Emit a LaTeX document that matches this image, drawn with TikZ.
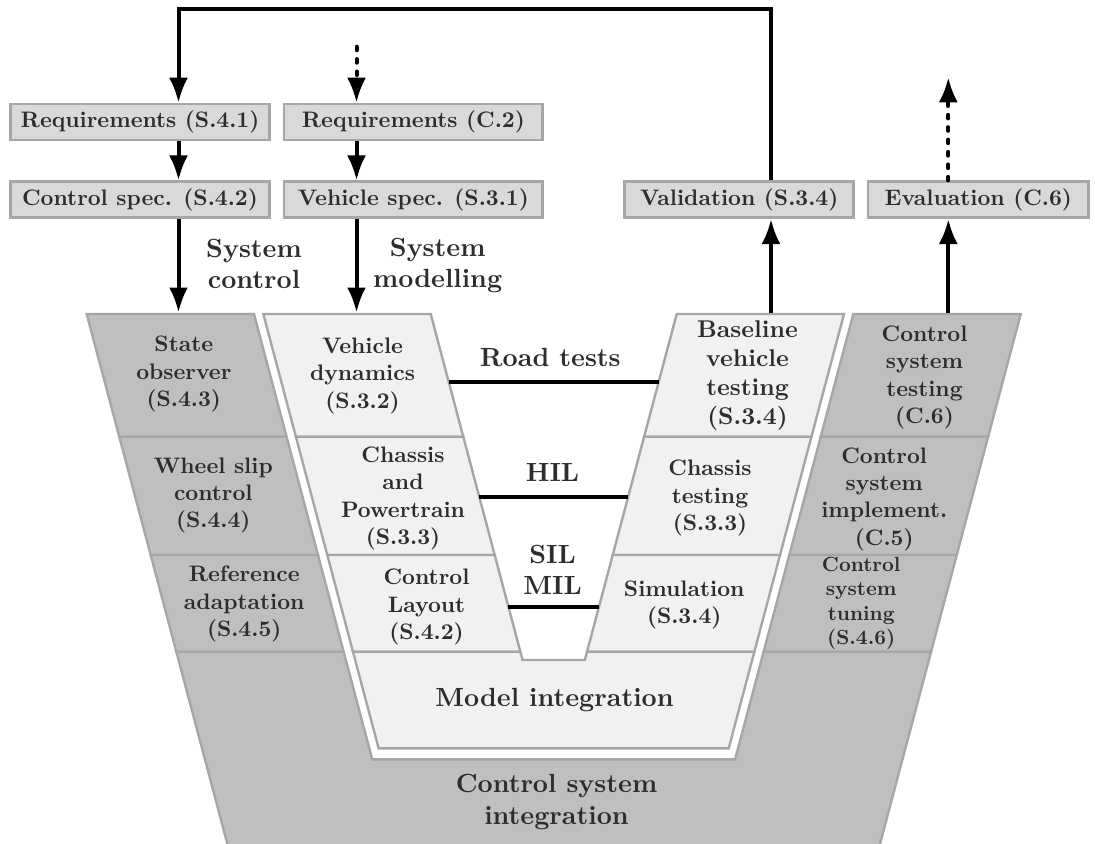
\documentclass[tikz,border=0pt]{standalone}
\usepackage{fontspec}
\setmainfont{lmroman10-regular.otf}[BoldFont=lmroman10-bold.otf]
\usetikzlibrary{arrows.meta}
\definecolor{boxfill}{RGB}{217,217,217}
\definecolor{bord}{RGB}{166,166,166}
\definecolor{darkcell}{RGB}{191,191,191}
\definecolor{lightcell}{RGB}{241,241,241}
\definecolor{txt}{RGB}{45,45,45}
\newcommand{\fbig}{\fontsize{13.15}{15.8}\selectfont\bfseries}
\newcommand{\fmid}{\fontsize{11.2}{13.7}\selectfont\bfseries}
\newcommand{\fbase}{\fontsize{12.1}{14.5}\selectfont\bfseries}
\newcommand{\ftune}{\fontsize{10.25}{12.2}\selectfont\bfseries}
\begin{document}
\begin{tikzpicture}[x=0.5pt,y=-0.5pt,
  box/.style={draw=bord, line width=1.3pt, fill=boxfill, minimum height=18pt,
    inner sep=0pt, text=txt, font=\fmid},
  arr/.style={line width=2pt, -{Latex[length=12.5pt,width=9.5pt]}},
  dsh/.style={arr, dash pattern=on 1.8pt off 4.4pt, line cap=round},
  cellD/.style={draw=bord, line width=1.2pt, fill=darkcell},
  cellL/.style={draw=bord, line width=1.2pt, fill=lightcell},
  lab/.style={text=txt, align=center, inner sep=0pt, font=\fmid},
  big/.style={lab, font=\fbig},
  lvl/.style={line width=2pt}]
\useasboundingbox (0,0) rectangle (1095,843);

% ---------- V shape: dark (control) cells ----------
\path[cellD] (86.7,314) -- (254,314) -- (286.58,436.7) -- (119.28,436.7) -- cycle;
\path[cellD] (119.28,436.7) -- (286.58,436.7) -- (317.99,555) -- (150.69,555) -- cycle;
\path[cellD] (150.69,555) -- (317.99,555) -- (343.66,651.7) -- (176.36,651.7) -- cycle;
\path[cellD] (853.3,314) -- (1020.7,314) -- (988.12,436.7) -- (820.72,436.7) -- cycle;
\path[cellD] (820.72,436.7) -- (988.12,436.7) -- (956.71,555) -- (789.31,555) -- cycle;
\path[cellD] (789.31,555) -- (956.71,555) -- (931.04,651.7) -- (763.64,651.7) -- cycle;
\path[cellD] (176.36,651.7) -- (343.66,651.7) -- (372.23,759.3) -- (735.07,759.3)
  -- (763.64,651.7) -- (931.04,651.7) -- (879.45,846) -- (227.95,846) -- cycle;

% ---------- V shape: light (model) cells ----------
\path[cellL] (263.3,314) -- (430.7,314) -- (463.28,436.7) -- (295.88,436.7) -- cycle;
\path[cellL] (295.88,436.7) -- (463.28,436.7) -- (494.69,555) -- (327.29,555) -- cycle;
\path[cellL] (327.29,555) -- (494.69,555) -- (520.36,651.7) -- (352.96,651.7) -- cycle;
\path[cellL] (676.7,314) -- (844,314) -- (811.42,436.7) -- (644.12,436.7) -- cycle;
\path[cellL] (644.12,436.7) -- (811.42,436.7) -- (780.01,555) -- (612.71,555) -- cycle;
\path[cellL] (612.71,555) -- (780.01,555) -- (754.34,651.7) -- (587.04,651.7) -- cycle;
\path[cellL] (352.96,651.7) -- (520.36,651.7) -- (522.56,660) -- (584.84,660)
  -- (587.04,651.7) -- (754.34,651.7) -- (728.69,748.3) -- (378.61,748.3) -- cycle;

% ---------- cell texts ----------
\node[lab] (so) at (183.8,374) {State\\observer\\(S.4.3)};
\node[lab] (ws) at (213.3,495.5) {Wheel slip\\control\\(S.4.4)};
\node[lab] (ra) at (244.2,604) {Reference\\adaptation\\(S.4.5)};
\node[lab] (vd) at (362.5,375.8) {Vehicle\\dynamics\\(S.3.2)};
\node[lab] (cp) at (403,498.3) {Chassis\\and\\Powertrain\\(S.3.3)};
\node[lab] (cl) at (426.5,607) {Control\\Layout\\(S.4.2)};
\node[lab,font=\fbase] (bv) at (747.5,375.8) {Baseline\\vehicle\\testing\\(S.3.4)};
\node[lab] (ct) at (710,498.3) {Chassis\\testing\\(S.3.3)};
\node[lab] (sim) at (684.2,605) {Simulation\\(S.3.4)};
\node[lab] (cst) at (924.5,377.5) {Control\\system\\testing\\(C.6)};
\node[lab] (csi) at (884.2,499.2) {Control\\system\\implement.\\(C.5)};
\node[lab,font=\ftune] (cstu) at (861.2,603.3) {Control\\system\\tuning\\(S.4.6)};
\node[big] (mi) at (554.5,700) {Model integration};
\node[big] (cint) at (556.5,802) {Control system\\integration};

% ---------- test levels ----------
\coordinate (rtL) at (448.67,381.7); \coordinate (rtR) at (658.73,381.7);
\coordinate (hiL) at (479.21,496.7); \coordinate (hiR) at (628.19,496.7);
\coordinate (miL) at (508.41,606.7); \coordinate (miR) at (598.99,606.7);
\draw[lvl] (rtL) -- (rtR);
\draw[lvl] (hiL) -- (hiR);
\draw[lvl] (miL) -- (miR);
\node[big, anchor=base] (road) at (550.3,366) {Road tests};
\node[big, anchor=base] (hil) at (552.5,481.7) {HIL};
\node[big] (silmil) at (552.5,570) {SIL\\MIL};

% ---------- top boxes ----------
\node[box, minimum width=129.4pt] (req1) at (140,122) {Requirements (S.4.1)};
\node[box, minimum width=129.4pt] (req2) at (413.35,122) {Requirements (C.2)};
\node[box, minimum width=129.4pt] (cspec) at (140,199.7) {Control spec. (S.4.2)};
\node[box, minimum width=129.4pt] (vspec) at (413.35,199.7) {Vehicle spec. (S.3.1)};
\node[box, minimum width=114.55pt] (valid) at (739.2,199.7) {Validation (S.3.4)};
\node[box, minimum width=110.35pt] (eval) at (978.3,199.7) {Evaluation (C.6)};

\node[big] (sysc) at (254,264) {System\\control};
\node[big] (sysm) at (437.7,265.5) {System\\modelling};

% ---------- connectors ----------
\coordinate (tl) at (178.5,9.3);
\coordinate (tr) at (771,9.3);
\coordinate (vL) at (178.5,312.5);
\coordinate (vM) at (356.5,312.5);
\coordinate (vR1) at (771,313);
\coordinate (vR2) at (948.3,313);
\coordinate (dtop) at (356.5,46.7);
\coordinate (etop) at (948.3,77.3);

\draw[arr] (valid.north -| tr) -- (tr) -- (tl) -- (req1.north -| tl);
\draw[arr] (req1.south -| tl) -- (cspec.north -| tl);
\draw[arr] (cspec.south -| tl) -- (vL);
\draw[dsh] (dtop) -- (req2.north -| dtop);
\draw[arr] (req2.south -| vM) -- (vspec.north -| vM);
\draw[arr] (vspec.south -| vM) -- (vM);
\draw[arr] (vR1) -- (valid.south -| vR1);
\draw[arr] (vR2) -- (eval.south -| vR2);
\draw[dsh] (eval.north -| etop) -- (etop);
\end{tikzpicture}
\end{document}
